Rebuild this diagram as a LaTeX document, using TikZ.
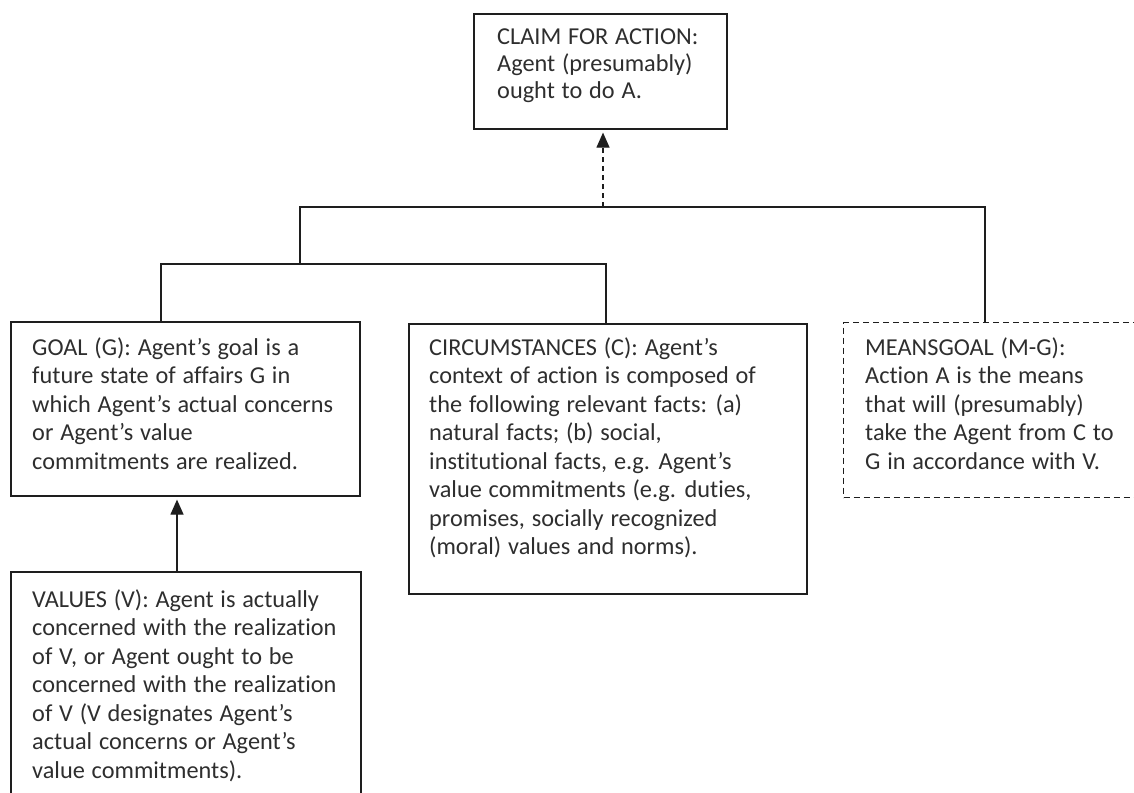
\documentclass[tikz,border=0pt]{standalone}
\usepackage{fontspec}
\setmainfont{Carlito}[Ligatures=NoCommon]
\usetikzlibrary{arrows.meta,calc}
\definecolor{ink}{HTML}{1E1E1E}
\definecolor{txt}{HTML}{2E2E2E}
% lines of a box text; the baseline of the result is that of its first line
\newcommand\boxlines[1]{{\spaceskip=0.28em plus 0.1em\relax
  \begin{tabular}[t]{@{}l@{}}#1\end{tabular}}}

\begin{document}
\begin{tikzpicture}[x=1pt,y=-1pt,
  box/.style={draw=ink, line width=1.6pt, rectangle, inner sep=0pt, anchor=north west},
  dashbox/.style={box, line width=1.4pt, dash pattern=on 6pt off 4pt},
  wire/.style={draw=ink, line width=1.4pt},
  tip/.style={-{Triangle[length=15pt,width=13pt]}},
  body/.style={text=txt, inner sep=0pt, anchor=base west,
    font=\fontsize{24.3}{28.5}\selectfont}]
\useasboundingbox (0,0) rectangle (1134,792);
\clip (0,0) rectangle (1134,792);

% frames
\node[box, minimum width=253pt, minimum height=115pt] (claim) at (473,13) {};
\node[box, minimum width=349pt, minimum height=174pt] (goal) at (10,321) {};
\node[box, minimum width=398pt, minimum height=270pt] (circ) at (408,323) {};
\node[dashbox, minimum width=300pt, minimum height=175pt] (means) at (843,322) {};
\node[box, minimum width=350pt, minimum height=240pt] (values) at (10,571) {};

% texts
\node[body, font=\fontsize{24.3}{26.7}\selectfont] (claimtxt) at (497,45)
  {\boxlines{CLAIM FOR ACTION:\\Agent (presumably)\\ought to do A.}};
\node[body] (goaltxt) at (32,355)
  {\boxlines{GOAL (G): Agent’s goal is a\\future state of affairs G in\\which Agent’s actual concerns\\or Agent’s value\\commitments are realized.}};
\node[body] (circtxt) at (429,355)
  {\boxlines{CIRCUMSTANCES (C): Agent’s\\context of action is composed of\\the following relevant facts: (a)\\natural facts; (b) social,\\institutional facts, e.g. Agent’s\\value commitments (e.g. duties,\\promises, socially recognized\\(moral) values and norms).}};
\node[body] (meanstxt) at (865,355)
  {\boxlines{MEANSGOAL (M-G):\\Action A is the means\\that will (presumably)\\take the Agent from C to\\G in accordance with V.}};
\node[body] (valuestxt) at (32,607)
  {\boxlines{VALUES (V): Agent is actually\\concerned with the realization\\of V, or Agent ought to be\\concerned with the realization\\of V (V designates Agent’s\\actual concerns or Agent’s\\value commitments).}};

% joints of the tree
\coordinate (hubT) at (300,207);
\coordinate (hubL) at (300,264);
\coordinate (barL) at (161,264);
\coordinate (barR) at (606,264);
\coordinate (hubR) at (985,207);
\coordinate (up) at (603,207);
\coordinate (va) at (177,571);

% connectors
\draw[wire] (hubL) -- (hubT) -- (hubR) -- (hubR |- means.north);
\draw[wire] (barL |- goal.north) -- (barL) -- (barR) -- (barR |- circ.north);
\draw[wire, line width=1.2pt, dash pattern=on 5pt off 4pt, tip] (up) -- ($(up |- claim.south)+(0,3)$);
\draw[wire, line width=1.2pt, tip] (va) -- ($(va |- goal.south)+(0,3)$);
\end{tikzpicture}
\end{document}
